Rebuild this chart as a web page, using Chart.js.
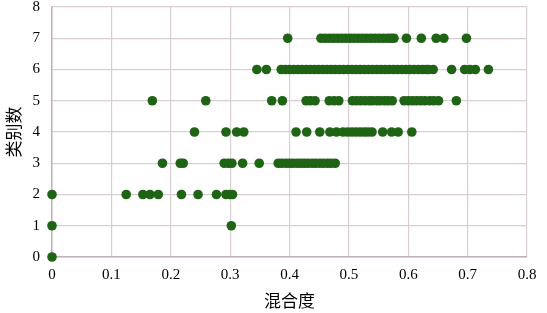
<!DOCTYPE html>
<html>
<head>
<meta charset="utf-8">
<script src="https://cdn.jsdelivr.net/npm/chart.js@4"></script>
<style>
  html, body { margin: 0; padding: 0; background: #fff; }
  #wrap { width: 547px; height: 313px; }
</style>
</head>
<body>
<div id="wrap"><canvas id="chart" width="547" height="313"></canvas></div>
<script>
// 类别数 (y) 对应的 混合度 (x) 读数
const categories = [0, 1, 2, 3, 4, 5, 6, 7];
const xTicks = [0, 0.1, 0.2, 0.3, 0.4, 0.5, 0.6, 0.7, 0.8];

const row0 = [0];
const row1 = [0, 0.302];
const row2 = [0, 0.125, 0.153, 0.165, 0.179, 0.218, 0.246, 0.277, 0.293, 0.299, 0.304];
const row3 = [0.186, 0.216, 0.221, 0.290, 0.297, 0.303, 0.321, 0.349,
  0.381, 0.387, 0.394, 0.400, 0.406, 0.413, 0.419, 0.425, 0.431, 0.438,
  0.444, 0.451, 0.457, 0.464, 0.470, 0.477];
const row4 = [0.240, 0.293, 0.311, 0.323, 0.411, 0.429, 0.451, 0.468, 0.479,
  0.490, 0.498, 0.505, 0.512, 0.519, 0.526, 0.532, 0.539, 0.557, 0.572, 0.583, 0.606];
const row5 = [0.169, 0.259, 0.370, 0.388, 0.428, 0.435, 0.443, 0.467, 0.475, 0.483,
  0.506, 0.513, 0.520, 0.527, 0.534, 0.540, 0.547, 0.553, 0.560, 0.566, 0.573,
  0.593, 0.600, 0.607, 0.614, 0.621, 0.628, 0.636, 0.643, 0.651, 0.681];
const row6 = [0.345, 0.361, 0.386, 0.393, 0.400, 0.407, 0.414, 0.421, 0.428, 0.435,
  0.442, 0.449, 0.456, 0.463, 0.470, 0.477, 0.484, 0.491, 0.498, 0.505, 0.512,
  0.519, 0.526, 0.533, 0.540, 0.547, 0.554, 0.561, 0.568, 0.575, 0.582, 0.589,
  0.596, 0.603, 0.610, 0.617, 0.624, 0.630, 0.634, 0.642, 0.673, 0.695, 0.704,
  0.713, 0.735];
const row7 = [0.397, 0.453, 0.460, 0.467, 0.474, 0.481, 0.488, 0.495, 0.502, 0.509,
  0.516, 0.523, 0.530, 0.537, 0.544, 0.551, 0.558, 0.565, 0.571, 0.576,
  0.597, 0.622, 0.647, 0.660, 0.698];

const rows = [row0, row1, row2, row3, row4, row5, row6, row7];
const points = [];
rows.forEach((xs, i) => {
  xs.forEach(x => points.push({ x: x, y: categories[i] }));
});

const gridColor = '#d9cfd3';
const tickFont = { family: '"Liberation Serif", "Times New Roman", serif', size: 15 };
const titleFont = { family: '"Noto Sans CJK SC", sans-serif', size: 17 };

new Chart(document.getElementById('chart'), {
  type: 'scatter',
  data: {
    datasets: [{
      data: points,
      backgroundColor: '#1e6414',
      borderColor: '#1e6414',
      pointRadius: 4.8,
      pointHoverRadius: 4.8,
      borderWidth: 0,
      clip: false
    }]
  },
  options: {
    responsive: false,
    animation: false,
    layout: { padding: { top: 7, right: 20, left: 0, bottom: 0 } },
    plugins: { legend: { display: false }, tooltip: { enabled: false } },
    scales: {
      x: {
        type: 'linear',
        min: 0,
        max: 0.8,
        afterBuildTicks: (s) => { s.ticks = xTicks.map(v => ({ value: v })); },
        afterFit: (s) => { s.height = 56; },
        grid: { color: gridColor, drawTicks: false, lineWidth: 1.2 },
        border: { color: '#bdb3b7', width: 1.5 },
        ticks: { color: '#000', font: tickFont, padding: 9, maxRotation: 0,
          callback: (v) => String(v) },
        title: { display: true, text: '混合度', color: '#000', font: titleFont,
          padding: { top: 0, bottom: 2 } }
      },
      y: {
        type: 'linear',
        min: 0,
        max: 8,
        ticks: { stepSize: 1, color: '#000', font: tickFont, padding: 12 },
        afterFit: (s) => { s.width = 52; s.paddingTop = 0; s.paddingBottom = 0; },
        grid: { color: gridColor, drawTicks: false, lineWidth: 1.2 },
        border: { color: '#bdb3b7', width: 1.5 },
        title: { display: true, text: '类别数', color: '#000', font: titleFont,
          padding: { top: 3, bottom: 0 } }
      }
    }
  }
});
</script>
</body>
</html>
